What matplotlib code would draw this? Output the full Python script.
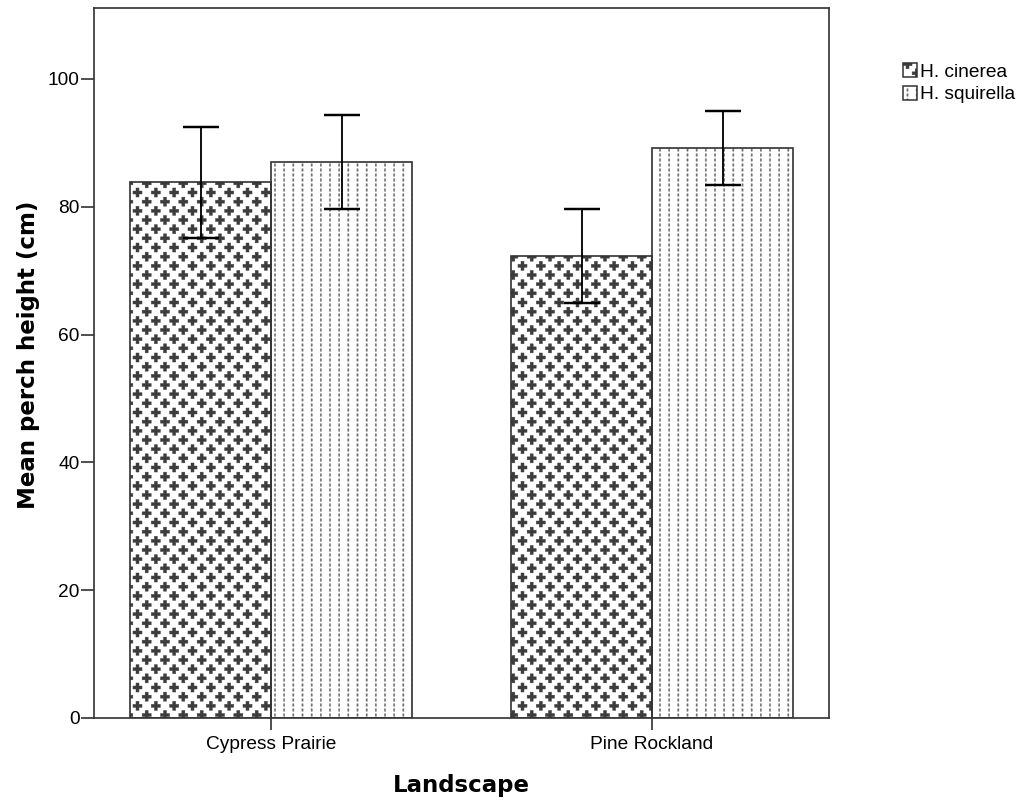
import matplotlib
matplotlib.use('Agg')
import matplotlib.pyplot as plt
import matplotlib.hatch as mhatch
from matplotlib.patches import Patch
from matplotlib.legend_handler import HandlerTuple
from matplotlib.path import Path
import numpy as np

landscapes = ['Cypress Prairie', 'Pine Rockland']
species = ['H. cinerea', 'H. squirella']
cinerea_mean = [83.8, 72.3]
cinerea_err = [8.65, 7.3]
squirella_mean = [87.0, 89.2]
squirella_err = [7.3, 5.8]


class PlusHatch(mhatch.HatchPatternBase):
    """Staggered grid of small filled plus signs ('*')."""

    def __init__(self, hatch, density):
        n = hatch.count('*') * 6
        self.pts = []
        if n:
            for row in range(2 * n + 1):
                shift = 0.5 if row % 2 else 0.0
                for i in range(n + 1):
                    x = (i + shift) / n
                    if x <= 1.0 + 1e-9:
                        self.pts.append((x, row / (2 * n)))
        self.num_vertices = len(self.pts) * 13

    def set_vertices_and_codes(self, vertices, codes):
        a, t = 0.041, 0.0135
        shape = np.array([(-t, -a), (t, -a), (t, -t), (a, -t), (a, t), (t, t),
                          (t, a), (-t, a), (-t, t), (-a, t), (-a, -t), (-t, -t),
                          (-t, -a)])
        sc = np.full(13, Path.LINETO, dtype=Path.code_type)
        sc[0] = Path.MOVETO
        sc[-1] = Path.CLOSEPOLY
        vertices[:] = np.concatenate([shape + p for p in self.pts])
        codes[:] = np.tile(sc, len(self.pts))


class DashHatch(mhatch.HatchPatternBase):
    """Vertical columns of short dashes ('.')."""

    def __init__(self, hatch, density):
        k = hatch.count('.')
        ncol, nrow = 12 * k, 22 * k
        self.pts = []
        if k:
            for r in range(nrow + 1):
                for c in range(ncol + 1):
                    self.pts.append((c / ncol, r / nrow))
        self.num_vertices = len(self.pts) * 5

    def set_vertices_and_codes(self, vertices, codes):
        w, h = 0.0055, 0.011
        shape = np.array([(-w, -h), (w, -h), (w, h), (-w, h), (-w, -h)])
        sc = np.array([Path.MOVETO, Path.LINETO, Path.LINETO, Path.LINETO,
                       Path.CLOSEPOLY], dtype=Path.code_type)
        vertices[:] = np.concatenate([shape + p for p in self.pts])
        codes[:] = np.tile(sc, len(self.pts))


mhatch._hatch_types = [mhatch.HorizontalHatch, mhatch.VerticalHatch,
                       mhatch.NorthEastHatch, mhatch.SouthEastHatch,
                       PlusHatch, DashHatch]

plt.rcParams['font.family'] = ['Liberation Sans', 'DejaVu Sans']
plt.rcParams['hatch.linewidth'] = 0.3

dpi = 110
fig = plt.figure(figsize=(1030 / dpi, 805 / dpi), dpi=dpi)
ax = fig.add_axes([0.0913, 0.1081, 0.7136, 0.882])

x = np.arange(len(landscapes))
w = 0.37
edge = '#333333'

groups = [(cinerea_mean, cinerea_err, '*', '#3c3c3c', -w / 2),
          (squirella_mean, squirella_err, '.', '#6e6e6e', w / 2)]
handles = []
for mean, err, hatch, hcol, off in groups:
    ax.bar(x + off, mean, w, color='white', edgecolor=hcol, hatch=hatch,
           linewidth=0, zorder=2)
    ax.bar(x + off, mean, w, fill=False, edgecolor=edge, linewidth=1.1, zorder=3)
    ax.errorbar(x + off, mean, yerr=err, fmt='none', ecolor='black',
                elinewidth=1.2, capsize=11.5, capthick=1.6, zorder=4)
    handles.append((Patch(facecolor='white', edgecolor=hcol, hatch=hatch, linewidth=0),
                    Patch(fill=False, edgecolor=edge, linewidth=1.0)))

ax.set_xlim(-0.4646, 1.4646)
ax.set_ylim(0, 111.1)
ax.set_xticks(x)
ax.set_xticklabels(landscapes)
ax.set_yticks([0, 20, 40, 60, 80, 100])
ax.tick_params(axis='y', length=8.5, width=1.1, color=edge, pad=1, labelsize=12.5)
ax.tick_params(axis='x', length=8, width=1.1, color=edge, pad=4, labelsize=12.5)
for s in ax.spines.values():
    s.set_color(edge)
    s.set_linewidth(1.1)

ax.set_xlabel('Landscape', fontsize=15, fontweight='bold', family='DejaVu Sans')
ax.set_ylabel('Mean perch height (cm)', fontsize=15, fontweight='bold', family='DejaVu Sans')
ax.xaxis.set_label_coords(0.5, -0.079)
ax.yaxis.set_label_coords(-0.0735, 0.512)

fig.legend(handles, species, handler_map={tuple: HandlerTuple(ndivide=1)},
           loc='upper left', bbox_to_anchor=(0.8767, 0.9215), frameon=False,
           fontsize=12.5, handlelength=0.74, handleheight=0.74, handletextpad=0.16,
           labelspacing=0.26, borderpad=0, borderaxespad=0)

fig.savefig('out.png', dpi=dpi)
